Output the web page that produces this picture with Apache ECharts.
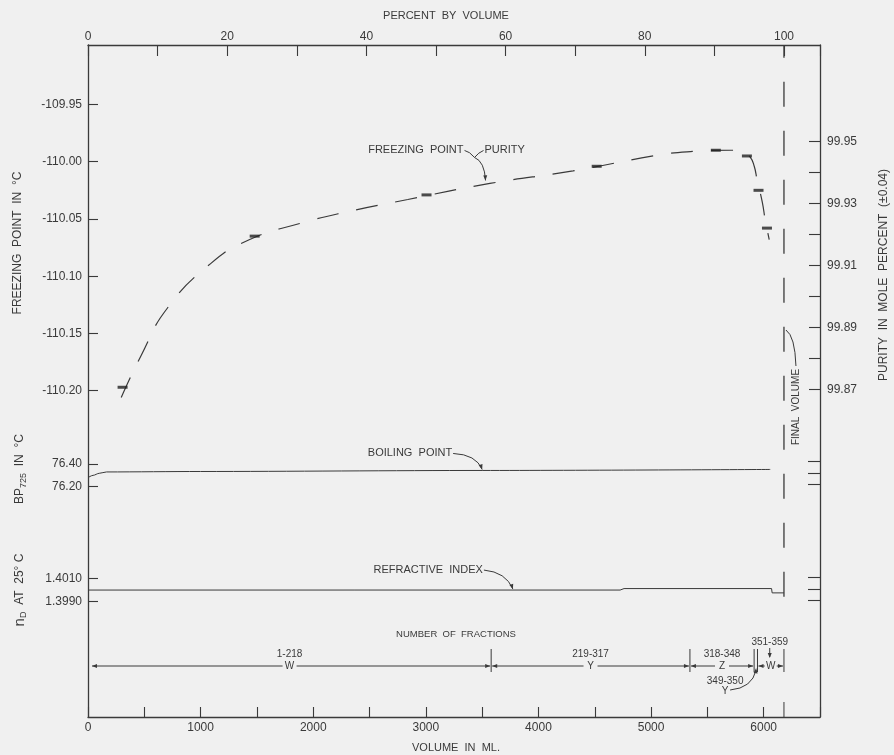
<!DOCTYPE html>
<html><head><meta charset="utf-8">
<script src="https://cdn.jsdelivr.net/npm/echarts@6/dist/echarts.min.js"></script>
<style>html,body{margin:0;padding:0;background:#f0f0f0}#c{width:894px;height:755px}</style>
</head><body><div id="c"></div>
<script>
// ---------------- data ----------------
const fpCurve = [[295,-110.206],[473,-110.169],[704,-110.128],[1089,-110.089],[1436,-110.068],[1880,-110.054],[2289,-110.044],[2840,-110.033],[3569,-110.019],[4307,-110.008],[5080,-109.994],[5382,-109.991],[5711,-109.990],[5809,-109.991],[5880,-109.996],[5916,-110.004],[5942,-110.016],[5987,-110.035],[6014,-110.051],[6049,-110.068]];
const fpPoints = [[307,-110.197],[1480,-110.065],[3006,-110.029],[4517,-110.004],[5575,-109.990],[5851,-109.995],[5954,-110.025],[6029,-110.058]];
const bpCurve = [[0,76.28],[45,76.30],[100,76.318],[165,76.330],[1000,76.334],[3500,76.343],[6058,76.352]];
const riCurve = [[0,1.4000],[4725,1.4000],[4760,1.40013],[6070,1.40013],[6075,1.39975],[6180,1.39975]];
const finalVolume = 6180;
const finalVolumeLow = 1.3994;
const fractionBounds = [0, 3580, 5345, 5915, 5945, 6180];
const fractionRanges = ['1-218', '219-317', '318-348', '349-350', '351-359'];
const fractionGroups = ['W', 'Y', 'Z', 'Y', 'W'];
const fpTicks = [-109.95, -110.00, -110.05, -110.10, -110.15, -110.20];
const purityLabels = [99.95, 99.93, 99.91, 99.89, 99.87];
const purityTicks = [99.95, 99.94, 99.93, 99.92, 99.91, 99.90, 99.89, 99.88, 99.87];
const bpTicks = [76.40, 76.20];
const bpRightTicks = [76.42, 76.32, 76.22];
const riTicks = [1.4010, 1.3990];
const riRightTicks = [1.4011, 1.4001, 1.3991];

// ---------------- scales / style ----------------
const INK = '#3a3a3a';
const FONT = '"Liberation Sans", Arial, sans-serif';
const VOL_MAX = 6500;
const PCT_MAX = VOL_MAX / finalVolume * 100;
const FP_MIN = -110.48498, FP_MAX = -109.89808;
const PUR_MIN = 99.76412, PUR_MAX = 99.98124;
const BP_MIN = 74.1709, BP_MAX = 80.0916;
const RI_MIN = 1.388803, RI_MAX = 1.448072;

const chart = echarts.init(document.getElementById('c'), null, {renderer: 'canvas'});

function yAx(pos, min, max, ticks, labels, fmt, showLine, tickLen, margin) {
  return {
    type: 'value', position: pos, min: min, max: max, scale: true,
    axisLine: {show: showLine, onZero: false, lineStyle: {color: INK, width: 1.3}},
    axisTick: {show: true, inside: true, length: tickLen, customValues: ticks, lineStyle: {color: INK, width: 1.1}},
    axisLabel: labels ? {show: true, customValues: labels, formatter: fmt, color: INK, fontSize: 12, fontFamily: FONT, margin: margin} : {show: false},
    splitLine: {show: false}
  };
}

function renderFraction(params, api) {
  const i = api.value(2);
  const xa = api.coord([api.value(0), FP_MIN])[0];
  const xb = api.coord([api.value(1), FP_MIN])[0];
  const ay = 666;
  const ln = (x1, y1, x2, y2) => ({type: 'line', shape: {x1, y1, x2, y2}, style: {stroke: INK, lineWidth: 1}});
  const tx = (x, y, s, size) => ({type: 'text', style: {x, y, text: s, fill: INK, font: size + 'px ' + FONT, align: 'center', verticalAlign: 'middle'}});
  const head = (x, y, dir) => ({type: 'polygon', shape: {points: [[x, y], [x - dir * 5, y - 2], [x - dir * 5, y + 2]]}, style: {fill: INK}});
  const ch = [];
  ch.push(ln(xb, 649, xb, 672));
  if (i === 3) {
    const cx = xa - 29;
    ch.push(tx(cx, 681, fractionRanges[i], 10));
    ch.push(tx(cx, 691, fractionGroups[i], 10));
    ch.push({type: 'bezierCurve', shape: {x1: cx + 5, y1: 690, cpx1: xa - 2, cpy1: 688, x2: xa + 2, y2: 670}, style: {stroke: INK, fill: null, lineWidth: 1}});
    ch.push({type: 'polygon', shape: {points: [[xa + 2, 668], [xa - 0.5, 673], [xa + 3.5, 673.5]]}, style: {fill: INK}});
  } else {
    const L = i === 0 ? xa + 4 : xa + 1;
    const R = xb - 1;
    const c = (xa + xb) / 2;
    const g = i === 4 ? 6 : 7;
    ch.push(ln(L, ay, c - g, ay));
    ch.push(ln(c + g, ay, R, ay));
    ch.push(head(L, ay, -1));
    ch.push(head(R, ay, 1));
    ch.push(tx(c, ay, fractionGroups[i], 10));
    if (i === 4) {
      ch.push(tx(c - 1, 642, fractionRanges[i], 10));
      ch.push(ln(c - 1, 648, c - 1, 657));
      ch.push({type: 'polygon', shape: {points: [[c - 1, 658], [c - 3, 653], [c + 1, 653]]}, style: {fill: INK}});
      ch.push(ln(xb, 702, xb, 717));
    } else {
      ch.push(tx(c, 654, fractionRanges[i], 10));
    }
  }
  return {type: 'group', children: ch};
}

const option = {
  backgroundColor: '#f0f0f0',
  animation: false,
  grid: {left: 88, right: 74, top: 45, bottom: 38, containLabel: false},
  xAxis: [
    {type: 'value', position: 'bottom', min: 0, max: VOL_MAX, interval: 500,
     axisLine: {show: true, onZero: false, lineStyle: {color: INK, width: 1.3}},
     axisTick: {show: true, inside: true, length: 10, lineStyle: {color: INK, width: 1.1}},
     axisLabel: {formatter: v => (Math.abs(v % 1000) < 1e-6 && v < VOL_MAX ? String(v) : ''), color: INK, fontSize: 12, fontFamily: FONT, margin: 5},
     splitLine: {show: false}},
    {type: 'value', position: 'top', min: 0, max: PCT_MAX, interval: 10,
     axisLine: {show: true, onZero: false, lineStyle: {color: INK, width: 1.3}},
     axisTick: {show: true, inside: true, length: 11, lineStyle: {color: INK, width: 1.1}},
     axisLabel: {formatter: v => (Math.abs(v % 20) < 1e-6 && v <= 100 ? String(Math.round(v)) : ''), color: INK, fontSize: 12, fontFamily: FONT, margin: 2},
     splitLine: {show: false}}
  ],
  yAxis: [
    yAx('left', FP_MIN, FP_MAX, fpTicks, fpTicks, v => v.toFixed(2), true, 10, 6),
    yAx('right', PUR_MIN, PUR_MAX, purityTicks, purityLabels, v => v.toFixed(2), true, 11, 7),
    yAx('left', BP_MIN, BP_MAX, bpTicks, bpTicks, v => v.toFixed(2), false, 10, 6),
    yAx('right', BP_MIN, BP_MAX, bpRightTicks, null, null, false, 12, 7),
    yAx('left', RI_MIN, RI_MAX, riTicks, riTicks, v => v.toFixed(4), false, 10, 6),
    yAx('right', RI_MIN, RI_MAX, riRightTicks, null, null, false, 12, 7)
  ],
  series: [
    {type: 'line', name: 'freezing point', xAxisIndex: 0, yAxisIndex: 0, data: fpCurve, smooth: 0.5, showSymbol: false,
     lineStyle: {color: INK, width: 1.2, type: [22, 18]}},
    {type: 'scatter', name: 'fp points', xAxisIndex: 0, yAxisIndex: 0, data: fpPoints, symbol: 'rect', symbolSize: [10, 3],
     itemStyle: {color: '#222'}, z: 5},
    {type: 'line', name: 'boiling point', xAxisIndex: 0, yAxisIndex: 2, data: bpCurve, smooth: 0.3, smoothMonotone: 'x', showSymbol: false,
     lineStyle: {color: INK, width: 1}},
    {type: 'line', name: 'refractive index', xAxisIndex: 0, yAxisIndex: 4, data: riCurve, showSymbol: false,
     lineStyle: {color: INK, width: 1}},
    {type: 'line', name: 'final volume', xAxisIndex: 0, yAxisIndex: 4, data: [[finalVolume, finalVolumeLow], [finalVolume, RI_MAX]], showSymbol: false,
     lineStyle: {color: INK, width: 1.3, type: [25, 24]}},
    {type: 'custom', name: 'fractions', xAxisIndex: 0, yAxisIndex: 0, renderItem: renderFraction, clip: false,
     encode: {x: [0, 1], y: 2},
     data: fractionRanges.map((r, i) => [fractionBounds[i], fractionBounds[i + 1], i])}
  ]
};
chart.setOption(option);

// ---------------- annotations ----------------
function arrowHead(tx, ty, fx, fy) {
  const dx = tx - fx, dy = ty - fy, d = Math.hypot(dx, dy), ux = dx / d, uy = dy / d;
  const bx = tx - ux * 5, by = ty - uy * 5, w = 2;
  return {type: 'polygon', shape: {points: [[tx, ty], [bx - uy * w, by + ux * w], [bx + uy * w, by - ux * w]]}, style: {fill: INK}, silent: true};
}
function curve(x1, y1, cx, cy, x2, y2) {
  return {type: 'bezierCurve', shape: {x1, y1, cpx1: cx, cpy1: cy, x2, y2}, style: {stroke: INK, fill: null, lineWidth: 1}, silent: true};
}
function text(x, y, s, size, align, rot) {
  return {type: 'text', x: x, y: y, rotation: rot || 0, silent: true,
    style: {text: s, fill: INK, font: size + 'px ' + FONT, align: align || 'center', verticalAlign: 'middle'}};
}
const R90 = Math.PI / 2;
const g = [];
// freezing point / purity leader
let p = chart.convertToPixel({xAxisIndex: 0, yAxisIndex: 0}, [3530, -110.019]);
let tX = p[0], tY = p[1] - 3;
g.push(text(tX - 22, tY - 30, 'FREEZING  POINT', 11, 'right'));
g.push(text(tX - 1, tY - 30, 'PURITY', 11, 'left'));
g.push(curve(tX - 21, tY - 30, tX - 16, tY - 29, tX - 11, tY - 23));
g.push(curve(tX - 2, tY - 30, tX - 7, tY - 28, tX - 11, tY - 23));
g.push(curve(tX - 11, tY - 23, tX - 1, tY - 19, tX, tY));
g.push(arrowHead(tX, tY, tX - 0.5, tY - 8));
// boiling point leader
p = chart.convertToPixel({xAxisIndex: 0, yAxisIndex: 2}, [3500, 76.343]);
tX = p[0]; tY = p[1] - 1;
g.push(text(tX - 30, tY - 16, 'BOILING  POINT', 11, 'right'));
g.push(curve(tX - 29, tY - 16, tX - 6, tY - 15, tX, tY));
g.push(arrowHead(tX, tY, tX - 2, tY - 6));
// refractive index leader
p = chart.convertToPixel({xAxisIndex: 0, yAxisIndex: 4}, [3773, 1.4000]);
tX = p[0]; tY = p[1] - 1;
g.push(text(tX - 30, tY - 19, 'REFRACTIVE  INDEX', 11, 'right'));
g.push(curve(tX - 29, tY - 19, tX - 7, tY - 17, tX, tY));
g.push(arrowHead(tX, tY, tX - 2, tY - 6));
// final volume label
p = chart.convertToPixel({xAxisIndex: 0, yAxisIndex: 0}, [finalVolume, -110.0]);
const fx = p[0];
g.push(text(fx + 12, 407, 'FINAL  VOLUME', 10, 'center', R90));
g.push(curve(fx + 12, 366, fx + 11, 336, fx + 2, 330));
// axis titles
g.push(text(446, 16, 'PERCENT  BY  VOLUME', 11));
g.push(text(456, 748, 'VOLUME  IN  ML.', 11));
g.push(text(456, 634, 'NUMBER  OF  FRACTIONS', 9.5));
g.push(text(18, 243, 'FREEZING  POINT  IN  °C', 12, 'center', R90));
g.push(text(884, 275, 'PURITY  IN  MOLE  PERCENT  (±0.04)', 12, 'center', R90));
g.push({type: 'text', x: 20, y: 469, rotation: R90, silent: true,
  style: {text: '{a|BP}{s|725}{a|  IN  °C}', align: 'center', verticalAlign: 'middle',
    rich: {a: {fill: INK, font: '12px ' + FONT, verticalAlign: 'middle', lineHeight: 16}, s: {fill: INK, font: '9px ' + FONT, verticalAlign: 'bottom', lineHeight: 16, padding: [4, 0, 0, 0]}}}});
g.push({type: 'text', x: 20, y: 590, rotation: R90, silent: true,
  style: {text: '{n|n}{s|D}{a|  AT  25° C}', align: 'center', verticalAlign: 'middle',
    rich: {n: {fill: INK, font: '15px ' + FONT, verticalAlign: 'middle', lineHeight: 16}, a: {fill: INK, font: '12px ' + FONT, verticalAlign: 'middle', lineHeight: 16}, s: {fill: INK, font: '9px ' + FONT, verticalAlign: 'bottom', lineHeight: 16, padding: [4, 0, 0, 0]}}}});
chart.setOption({graphic: {elements: g}});
</script>
</body></html>
